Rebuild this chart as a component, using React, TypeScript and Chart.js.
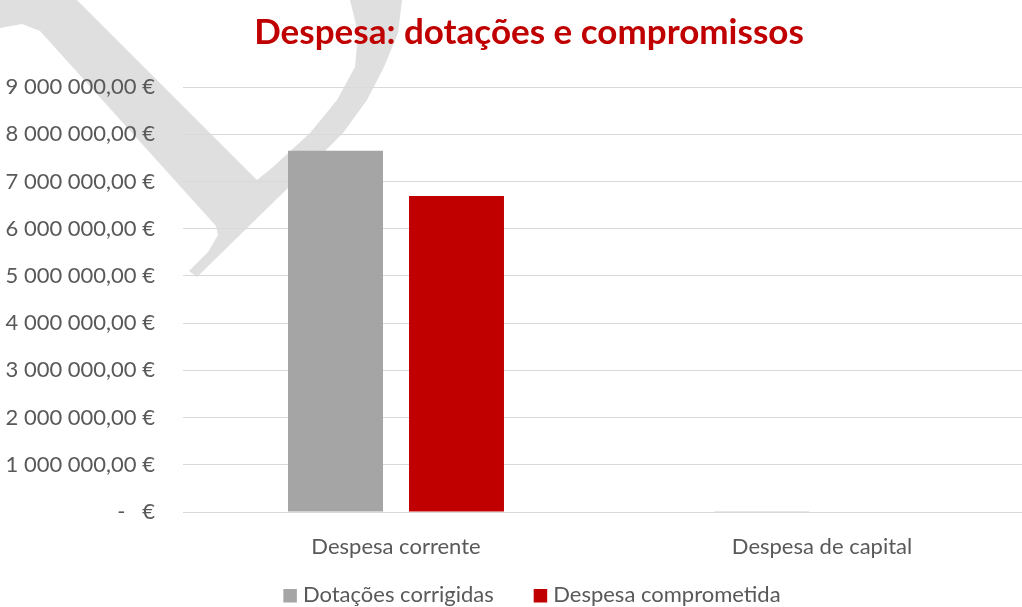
import React, { useEffect, useRef } from "react";
import { Chart, registerables } from "chart.js";

Chart.register(...registerables);

const categories = ["Despesa corrente", "Despesa de capital"];
const seriesNames = ["Dotações corrigidas", "Despesa comprometida"];
const dotacoesCorrigidas = [7650000, 15000];
const despesaComprometida = [6690000, 0];
const seriesColors = ["#A5A5A5", "#C00000"];
const chartTitle = "Despesa: dotações e compromissos";
const yMax = 9000000;
const yStep = 1000000;

const FONT = "Lato";
const TEXT_COLOR = "#595959";

function formatEuro(v: number): string {
  if (v === 0) return "-   €";
  const intPart = Math.round(v).toString().replace(/\B(?=(\d{3})+(?!\d))/g, " ");
  return intPart + ",00 €";
}

const watermarkPlugin = {
  id: "watermark",
  beforeDraw(chart: any) {
    const ctx = chart.ctx;
    ctx.save();
    ctx.fillStyle = "#dfdfdf";
    ctx.beginPath();
    const pts: [number, number][] = [
      [0, 0], [77, 0], [257, 180],
      [273, 167], [310, 133], [337, 100], [355, 67], [358, 33], [350, 0],
      [402, 0], [398, 33], [384, 67], [367, 100], [343, 133], [308, 168], [290, 186],
      [197, 277], [189, 271], [208, 252], [218, 235], [216, 226],
      [40, 31], [22, 24], [0, 28],
    ];
    pts.forEach(([x, y], i) => (i === 0 ? ctx.moveTo(x, y) : ctx.lineTo(x, y)));
    ctx.closePath();
    ctx.fill();
    ctx.restore();
  },
};

const titleLegendPlugin = {
  id: "titleLegend",
  afterDraw(chart: any) {
    const ctx = chart.ctx;
    ctx.save();
    // title
    ctx.font = `bold 35px ${FONT}`;
    ctx.fillStyle = "#C00000";
    ctx.textAlign = "center";
    ctx.textBaseline = "alphabetic";
    ctx.fillText(chartTitle, 529, 44);
    // legend
    ctx.font = `22px ${FONT}`;
    ctx.textAlign = "left";
    const box = 13.5;
    const gapBoxText = 6;
    const gapItems = 40;
    const items = chart.data.datasets.map((d: any) => ({
      label: d.label,
      color: d.backgroundColor,
      w: ctx.measureText(d.label).width,
    }));
    let total = 0;
    items.forEach((it: any, i: number) => {
      total += box + gapBoxText + it.w + (i < items.length - 1 ? gapItems : 0);
    });
    let x = 532 - total / 2;
    items.forEach((it: any) => {
      ctx.fillStyle = it.color;
      ctx.fillRect(x, 589, box, box);
      x += box + gapBoxText;
      ctx.fillStyle = TEXT_COLOR;
      ctx.fillText(it.label, x, 602);
      x += it.w + gapItems;
    });
    ctx.restore();
  },
};

export default function App() {
  const canvasRef = useRef<HTMLCanvasElement | null>(null);

  useEffect(() => {
    if (!canvasRef.current) return;
    const chart = new Chart(canvasRef.current, {
      type: "bar",
      data: {
        labels: categories,
        datasets: [
          {
            label: seriesNames[0],
            data: dotacoesCorrigidas,
            backgroundColor: seriesColors[0],
            borderWidth: 0,
            categoryPercentage: 0.568,
            barPercentage: 0.785,
          },
          {
            label: seriesNames[1],
            data: despesaComprometida,
            backgroundColor: seriesColors[1],
            borderWidth: 0,
            categoryPercentage: 0.568,
            barPercentage: 0.785,
          },
        ],
      },
      options: {
        animation: false,
        responsive: false,
        maintainAspectRatio: false,
        layout: { padding: { top: 87, left: 0, right: 5, bottom: 58 } },
        plugins: {
          legend: { display: false },
          title: { display: false },
          tooltip: { enabled: false },
        },
        scales: {
          x: {
            grid: { display: false, drawTicks: false },
            border: { display: false },
            ticks: {
              color: TEXT_COLOR,
              font: { family: FONT, size: 22 },
              padding: 22,
              maxRotation: 0,
            },
            afterFit: (scale: any) => {
              scale.height = 50;
            },
          },
          y: {
            min: 0,
            max: yMax,
            grid: { color: "#d9d9d9", lineWidth: 1, drawTicks: false },
            border: { display: false },
            ticks: {
              stepSize: yStep,
              color: TEXT_COLOR,
              font: { family: FONT, size: 22 },
              padding: 28,
              callback: (v: any) => formatEuro(Number(v)),
            },
            afterFit: (scale: any) => {
              scale.width = 183;
            },
          },
        },
      },
      plugins: [watermarkPlugin, titleLegendPlugin],
    });
    return () => chart.destroy();
  }, []);

  return (
    <div
      style={{
        position: "absolute",
        left: 0,
        top: 0,
        width: 1022,
        height: 607,
        overflow: "hidden",
        background: "#ffffff",
      }}
    >
      <canvas ref={canvasRef} width={1040} height={620} style={{ display: "block" }} />
    </div>
  );
}
